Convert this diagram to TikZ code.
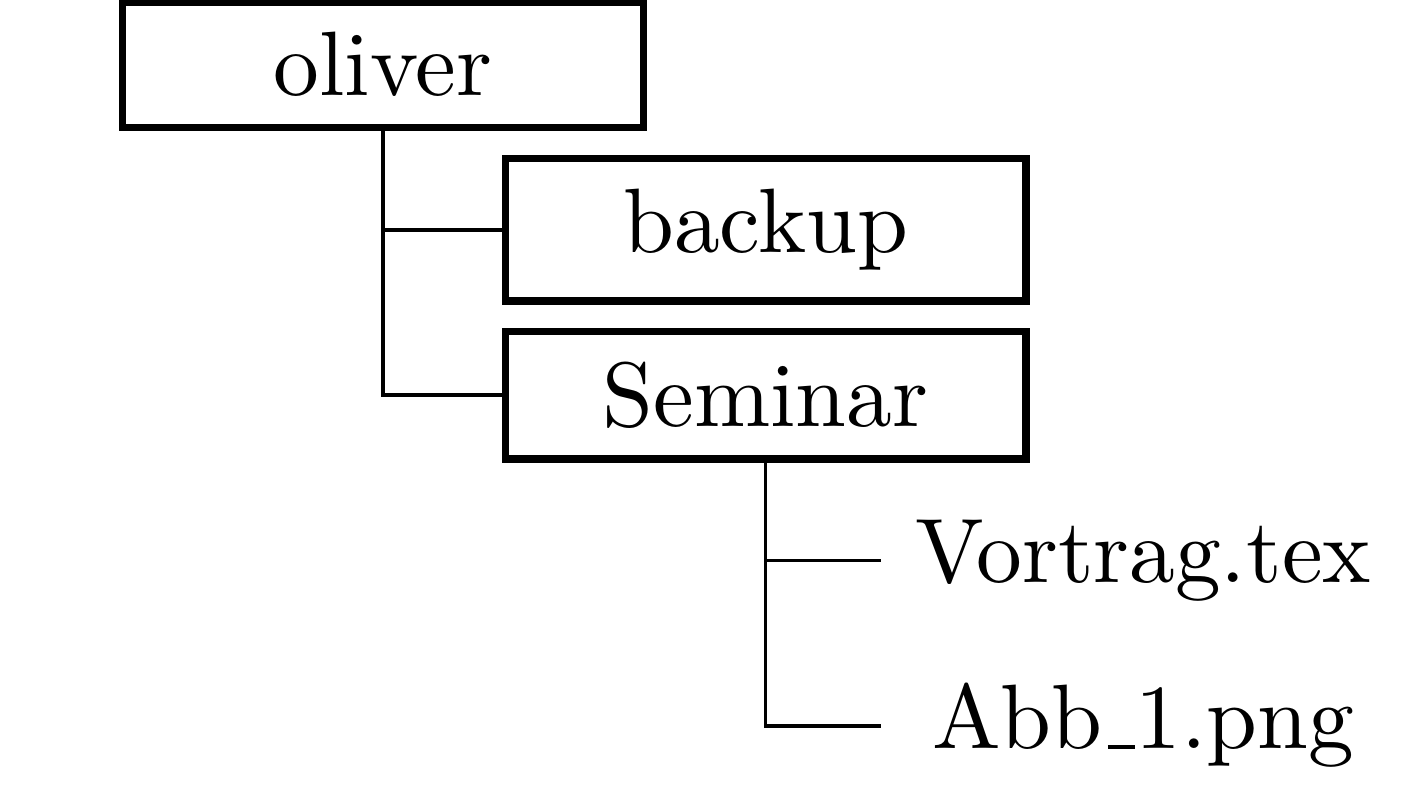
\documentclass[tikz,border=0pt]{standalone}
\usepackage{tikz}
\usetikzlibrary{positioning}

\begin{document}
\begin{tikzpicture}[%
    folder/.style = {draw, thick, rectangle, minimum width = 2cm},
    file/.style   = {rectangle, minimum width = 2cm}]

  \useasboundingbox (-1.471,0.248) rectangle (3.926,-2.814);

  \draw (0,0) node[folder] (oliver) {oliver};
  \draw (1.47,-0.635) node[folder] (backup) {backup};
  \draw (1.47,-1.27) node[folder] (Seminar) {Seminar};
  \draw (2.92,-1.905) node[file] (Vortrag) {Vortrag.tex};
  \draw (2.92,-2.54) node[file] (Abb) {\fontencoding{OT1}\selectfont Abb\_1.png};

  \draw (oliver.south) |- (backup.west);
  \draw (oliver.south) |- (Seminar.west);
  \draw (Seminar.south) |- (Vortrag.west);
  \draw (Seminar.south) |- (Abb.west);

\end{tikzpicture}
\end{document}
